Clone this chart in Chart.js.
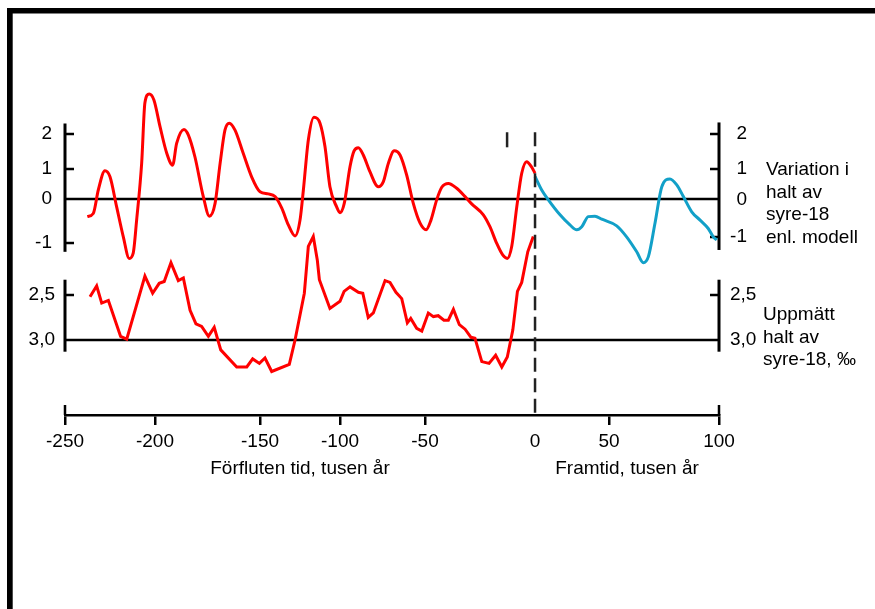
<!DOCTYPE html>
<html>
<head>
<meta charset="utf-8">
<script src="https://cdn.jsdelivr.net/npm/chart.js@4"></script>
<style>
  body { margin: 0; background: #fff; }
  canvas { display: block; }
</style>
</head>
<body>
<canvas id="graf" width="875" height="609"></canvas>
<script>
// tid i tusen år, negativ = förfluten tid
const modellTid = [-237.6, -234.3, -231.5, -227.8, -225, -221.3, -217.6, -214.3, -212.1, -210.2,
  -207.4, -205.6, -203.2, -200.6, -197.6, -194.4, -191.6, -189.7, -186.2, -184.1,
  -181, -177, -174.1, -171.4, -169, -166.7, -164.6, -161.9, -158, -154,
  -150, -144.8, -140.6, -136.4, -132.3, -128.1, -125, -122.9, -119.8, -116.3,
  -112.5, -109.4, -106.3, -102.1, -100, -97.5, -94.1, -91.8, -89.2, -86.3,
  -82.4, -77.5, -74.5, -71.6, -68.1, -64.7, -60.8, -56.9, -52.9, -49.5,
  -47.3, -44.7, -42.4, -39.4, -35.6, -31.8, -28.8, -23.5, -20.5, -17.4,
  -14.7, -12.6, -10.6, -8.3, -6.05, -3.8, -1.5, 0];
const modellVarde = [-0.40, -0.33, 0.30, 0.94, 0.74, -0.18, -0.86, -1.35, -1.23, -0.48,
  1.17, 2.89, 3.14, 2.97, 2.21, 1.45, 1.11, 1.73, 2.13, 1.97,
  1.35, 0.08, -0.39, -0.10, 1.16, 2.11, 2.31, 2.11, 1.45, 0.74,
  0.24, 0.17, 0.08, -0.21, -0.59, -0.84, -0.48, 0.30, 1.83, 2.48,
  2.31, 1.64, 0.41, -0.18, -0.31, -0.10, 1.07, 1.51, 1.61, 1.40,
  0.91, 0.41, 0.58, 1.16, 1.52, 1.40, 0.80, -0.10, -0.55, -0.70,
  -0.48, -0.02, 0.39, 0.52, 0.36, 0.08, -0.11, -0.36, -0.63, -1.01,
  -1.27, -1.35, -1.08, -0.18, 0.86, 1.21, 1.05, 0.86];

const prognosTid = [0, 4.5, 9.0, 16.9, 23.6, 28.2, 31.6, 36, 40.5, 45.1,
  53.5, 58, 62.6, 65.6, 67.9, 70.9, 74, 77.7, 80.8, 83.8,
  87.6, 91.4, 95.1, 97.4, 99];
const prognosVarde = [0.75, 0.30, -0.02, -0.36, -0.59, -0.70, -0.63, -0.40, -0.39, -0.46,
  -0.61, -0.86, -1.20, -1.45, -1.31, -0.55, 0.41, 0.67, 0.47, 0.08,
  -0.29, -0.48, -0.67, -0.86, -0.93];

const matTid = [-236.1, -232.4, -229.6, -225.9, -219.1, -215.7, -205.6, -201.3, -198, -195.6,
  -192.4, -188.9, -186.5, -183.3, -180.5, -177.8, -174.6, -171.8, -168.7, -161.1,
  -156.3, -153.5, -150.3, -146.9, -142.7, -131.7, -128.1, -122.3, -119.8, -116.7,
  -114.2, -112.9, -106.3, -100, -97.6, -94.1, -89.2, -86.6, -83.4, -80.4,
  -73.5, -70.6, -67.1, -63.7, -60.4, -58.4, -54.9, -51.9, -48.5, -46.2,
  -44, -41.4, -39.4, -37.1, -34.4, -31.8, -29.1, -27.3, -24.2, -20.9,
  -17.9, -15.1, -12.6, -10.1, -8, -6.05, -3.3, -0.8];
const matVarde = [2.52, 2.40, 2.59, 2.56, 2.96, 2.99, 2.29, 2.48, 2.37, 2.35,
  2.14, 2.34, 2.31, 2.67, 2.82, 2.85, 2.96, 2.86, 3.11, 3.30,
  3.30, 3.21, 3.26, 3.20, 3.35, 3.27, 3.00, 2.48, 1.96, 1.85,
  2.11, 2.33, 2.65, 2.57, 2.46, 2.41, 2.47, 2.48, 2.75, 2.70,
  2.34, 2.36, 2.47, 2.54, 2.81, 2.76, 2.87, 2.90, 2.70, 2.74,
  2.73, 2.78, 2.78, 2.66, 2.83, 2.88, 2.97, 2.98, 3.24, 3.26,
  3.17, 3.30, 3.19, 2.89, 2.46, 2.36, 2.02, 1.85];

const xTicks = [-250, -200, -150, -100, -50, 0, 50, 100];
const modellTicks = [2, 1, 0, -1];
const matTicks = [2.5, 3.0];

// axlarna i originalet är inte linjära, så skalan går styckvis mellan knutpunkter
// [värde, andel av axelns längd]
const knutar = {
  x: [[-250, 0], [-200, 0.1376], [-150, 0.2982], [-100, 0.4205], [-50, 0.5505], [0, 0.7187], [50, 0.8318], [100, 1]],
  yModell: [[-1, 0.5134], [0, 0.6448], [1, 0.7343], [2, 0.8388]],
  yModellH: [[-1, 0.5313], [0, 0.6418], [1, 0.7343], [2, 0.8388]],
  yMatt: [[2.5, 0.3582], [3, 0.2239]]
};

class StyckvisSkala extends Chart.LinearScale {
  andel(value) {
    const k = knutar[this.id];
    let i = 1;
    while (i < k.length - 1 && value > k[i][0]) i++;
    const [v0, p0] = k[i - 1];
    const [v1, p1] = k[i];
    return p0 + (value - v0) * (p1 - p0) / (v1 - v0);
  }
  getPixelForValue(value) {
    return this.getPixelForDecimal(this.andel(value));
  }
  getValueForPixel(pixel) {
    const k = knutar[this.id];
    const d = this.getDecimalForPixel(pixel);
    for (let i = 1; i < k.length; i++) {
      const [v0, p0] = k[i - 1];
      const [v1, p1] = k[i];
      if (i === k.length - 1 || (d - p0) * (d - p1) <= 0) {
        return v0 + (d - p0) * (v1 - v0) / (p1 - p0);
      }
    }
  }
}
StyckvisSkala.id = 'styckvis';
StyckvisSkala.defaults = Chart.LinearScale.defaults;
Chart.register(StyckvisSkala);

const FONT = '"Liberation Sans", Arial, sans-serif';
Chart.defaults.font.family = FONT;

function punkter(tid, varde) {
  return tid.map((t, i) => ({ x: t, y: varde[i] }));
}

function linje(ctx, x1, y1, x2, y2) {
  ctx.beginPath();
  ctx.moveTo(x1, y1);
  ctx.lineTo(x2, y2);
  ctx.stroke();
}

const ritning = {
  id: 'ritning',
  beforeDraw(chart) {
    const ctx = chart.ctx;
    ctx.save();
    ctx.fillStyle = '#000';
    ctx.fillRect(7, 8, 868, 5.5);
    ctx.fillRect(7, 8, 5.7, 601);
    ctx.restore();
  },
  beforeDatasetsDraw(chart) {
    const { ctx, chartArea } = chart;
    const { x, yModell, yModellH, yMatt } = chart.scales;
    const xl = x.getPixelForValue(-250);
    const xr = x.getPixelForValue(100);
    ctx.save();
    ctx.strokeStyle = '#000';

    // nollinjer
    ctx.lineWidth = 2.5;
    linje(ctx, xl, yModell.getPixelForValue(0), xr, yModell.getPixelForValue(0));
    linje(ctx, xl, yMatt.getPixelForValue(3), xr, yMatt.getPixelForValue(3));

    // y-axlar
    ctx.lineWidth = 3;
    linje(ctx, xl, yModell.getPixelForValue(2.3), xl, yModell.getPixelForValue(-1.2));
    linje(ctx, xr, yModellH.getPixelForValue(2.33), xr, yModellH.getPixelForValue(-1.35));
    linje(ctx, xl, yMatt.getPixelForValue(2.33), xl, yMatt.getPixelForValue(3.13));
    linje(ctx, xr, yMatt.getPixelForValue(2.33), xr, yMatt.getPixelForValue(3.13));

    // förlängda ändstreck på x-axeln
    ctx.lineWidth = 2.5;
    linje(ctx, xl, chartArea.bottom - 10, xl, chartArea.bottom);
    linje(ctx, xr, chartArea.bottom - 10, xr, chartArea.bottom);

    // streck
    modellTicks.forEach(v => {
      if (v === 0) return;
      const yl = yModell.getPixelForValue(v);
      const yr = yModellH.getPixelForValue(v);
      linje(ctx, xl, yl, xl + 9, yl);
      linje(ctx, xr - 9, yr, xr, yr);
    });
    matTicks.forEach(v => {
      if (v === 3) return;
      const y = yMatt.getPixelForValue(v);
      linje(ctx, xl, y, xl + 9, y);
      linje(ctx, xr - 9, y, xr, y);
    });

    // etiketter
    ctx.fillStyle = '#000';
    ctx.font = '19px ' + FONT;
    ctx.textBaseline = 'middle';
    modellTicks.forEach(v => {
      ctx.textAlign = 'right';
      ctx.fillText(String(v), xl - 13, yModell.getPixelForValue(v));
      ctx.fillText(String(v), xr + 28, yModellH.getPixelForValue(v));
    });
    matTicks.forEach(v => {
      const txt = v.toFixed(1).replace('.', ',');
      ctx.textAlign = 'right';
      ctx.fillText(txt, xl - 10, yMatt.getPixelForValue(v));
      ctx.textAlign = 'left';
      ctx.fillText(txt, xr + 11, yMatt.getPixelForValue(v));
    });
    ctx.restore();
  },
  afterDatasetsDraw(chart) {
    const { ctx, chartArea } = chart;
    const { x, yModell } = chart.scales;
    ctx.save();
    ctx.strokeStyle = '#222';
    ctx.lineWidth = 2.5;
    ctx.setLineDash([14, 6.5]);
    const x0 = x.getPixelForValue(0);
    linje(ctx, x0, yModell.getPixelForValue(2.05), x0, chartArea.bottom);
    ctx.setLineDash([]);
    const xm = x.getPixelForValue(-12.7);
    linje(ctx, xm, yModell.getPixelForValue(2.05), xm, yModell.getPixelForValue(1.62));

    ctx.fillStyle = '#000';
    ctx.font = '19px ' + FONT;
    ctx.textBaseline = 'middle';
    ctx.textAlign = 'left';
    ['Variation i', 'halt av', 'syre-18', 'enl. modell'].forEach((t, i) => {
      ctx.fillText(t, 766, 170 + i * 22.5);
    });
    ['Uppmätt', 'halt av', 'syre-18, ‰'].forEach((t, i) => {
      ctx.fillText(t, 763, 315 + i * 22.5);
    });
    ctx.textAlign = 'center';
    ctx.fillText('Förfluten tid, tusen år', 300, 469);
    ctx.fillText('Framtid, tusen år', 627, 469);
    ctx.restore();
  }
};

new Chart(document.getElementById('graf'), {
  type: 'line',
  data: {
    datasets: [
      {
        data: punkter(modellTid, modellVarde),
        yAxisID: 'yModell',
        borderColor: '#ff0000',
        borderWidth: 3,
        cubicInterpolationMode: 'monotone',
        pointRadius: 0
      },
      {
        data: punkter(prognosTid, prognosVarde),
        yAxisID: 'yModell',
        borderColor: '#12a0c8',
        borderWidth: 3,
        cubicInterpolationMode: 'monotone',
        pointRadius: 0
      },
      {
        data: punkter(matTid, matVarde),
        yAxisID: 'yMatt',
        borderColor: '#ff0000',
        borderWidth: 3,
        tension: 0,
        pointRadius: 0
      }
    ]
  },
  options: {
    responsive: false,
    animation: false,
    devicePixelRatio: 1,
    events: [],
    layout: { padding: { left: 65, right: 156, top: 80, bottom: 0 } },
    plugins: { legend: { display: false }, tooltip: { enabled: false } },
    scales: {
      x: {
        type: 'styckvis',
        position: 'bottom',
        min: -250,
        max: 100,
        afterBuildTicks: s => { s.ticks = xTicks.map(v => ({ value: v })); },
        afterFit: s => { s.height = 194; },
        grid: {
          drawOnChartArea: false,
          tickLength: 10,
          lineWidth: 2.5,
          color: c => (c.tick && c.tick.value === 0) ? 'rgba(0,0,0,0)' : '#000'
        },
        border: { display: true, color: '#000', width: 2.5 },
        ticks: {
          autoSkip: false,
          maxRotation: 0,
          padding: 5,
          color: '#000',
          font: { size: 19 },
          callback: v => String(v)
        }
      },
      yModell: { type: 'styckvis', position: 'left', display: false, min: -5, max: 5 },
      yModellH: { type: 'styckvis', position: 'right', display: false, min: -5, max: 5 },
      yMatt: { type: 'styckvis', position: 'left', display: false, min: 1, max: 4 }
    }
  },
  plugins: [ritning]
});
</script>
</body>
</html>
